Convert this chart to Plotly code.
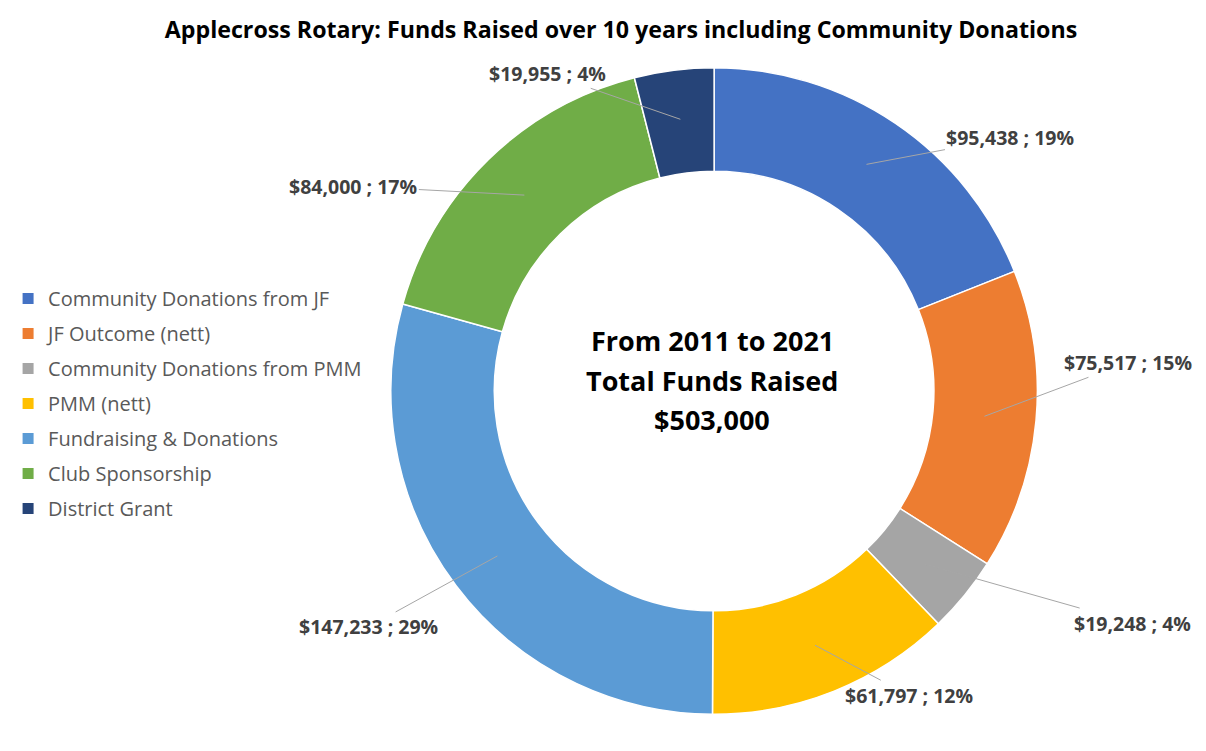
import math
import plotly.graph_objects as go

# ---- data ----
categories = [
    "Community Donations from JF",
    "JF Outcome (nett)",
    "Community Donations from PMM",
    "PMM (nett)",
    "Fundraising & Donations",
    "Club Sponsorship",
    "District Grant",
]
values = [95438, 75517, 19248, 61797, 147233, 84000, 19955]
colors = ["#4472C4", "#ED7D31", "#A5A5A5", "#FFC000", "#5B9BD5", "#70AD47", "#264478"]
title_text = "Applecross Rotary: Funds Raised over 10 years including Community Donations"
center_lines = ["From 2011 to 2021", "Total Funds Raised", "$503,000"]

# ---- layout constants (page pixels; the page body has an 8px margin) ----
OX, OY = 8, 8
W, H = 1190, 735
CX, CY, R_OUT, HOLE = 710, 391, 326, 0.68
label_offsets = [(144, -27), (144, -54), (208, 59), (94, 50), (-129, 71), (-171, -9), (-133, -46)]
FONT = "Open Sans"


def paper(px, py):
    return (px - OX) / W, 1 - (py - OY) / H


fig = go.Figure()
x0, y1 = paper(CX - R_OUT, CY - R_OUT)
x1, y0 = paper(CX + R_OUT, CY + R_OUT)
fig.add_trace(go.Pie(
    labels=categories,
    values=values,
    hole=HOLE,
    sort=False,
    direction="clockwise",
    rotation=0,
    marker=dict(colors=colors, line=dict(color="white", width=1.5)),
    textinfo="none",
    hoverinfo="label+value+percent",
    showlegend=False,
    domain=dict(x=[x0, x1], y=[y0, y1]),
))

# legend entries (one group per category so the spacing can be set)
for i, (name, col) in enumerate(zip(categories, colors)):
    fig.add_trace(go.Scatter(
        x=[None], y=[None], mode="markers", name=name,
        marker=dict(symbol="square", size=11, color=col),
        legendgroup=f"g{i}", showlegend=True, hoverinfo="skip",
    ))

total = sum(values)
annotations = []
cum = 0
r_mid = R_OUT * (1 + HOLE) / 2
for v, (ax, ay) in zip(values, label_offsets):
    mid = (cum + v / 2) / total * 2 * math.pi
    cum += v
    px = CX + r_mid * math.sin(mid)
    py = CY - r_mid * math.cos(mid)
    ax_p, ay_p = paper(px, py)
    annotations.append(dict(
        x=ax_p, y=ay_p, xref="paper", yref="paper",
        text=f"<b>${v:,} ; {round(v / total * 100)}%</b>",
        showarrow=True, arrowhead=0, arrowwidth=1, arrowcolor="#A6A6A6",
        ax=ax, ay=ay, standoff=0,
        font=dict(family=FONT, size=19.5, color="#404040"),
    ))

for line, ly in zip(center_lines, [340, 380, 419]):
    cx_p, cy_p = paper(CX - 2, ly)
    annotations.append(dict(
        x=cx_p, y=cy_p, xref="paper", yref="paper", yanchor="middle",
        text=f"<b>{line}</b>", showarrow=False,
        font=dict(family=FONT, size=27, color="black"),
    ))

tx, ty = paper(621, 30)
lx, ly = paper(-2, 279)
fig.update_layout(
    width=W, height=H,
    margin=dict(l=0, r=0, t=0, b=0),
    paper_bgcolor="white",
    plot_bgcolor="white",
    xaxis=dict(visible=False),
    yaxis=dict(visible=False),
    title=dict(text="<b>" + title_text + "</b>", x=tx, xanchor="center",
               y=ty, yanchor="middle",
               font=dict(family=FONT, size=23.2, color="black")),
    showlegend=True,
    legend=dict(x=lx, y=ly, xanchor="left", yanchor="top",
                font=dict(family=FONT, size=20, color="#595959"),
                bgcolor="rgba(0,0,0,0)", tracegroupgap=6,
                itemwidth=30),
    annotations=annotations,
)

fig.write_html("out.html")
